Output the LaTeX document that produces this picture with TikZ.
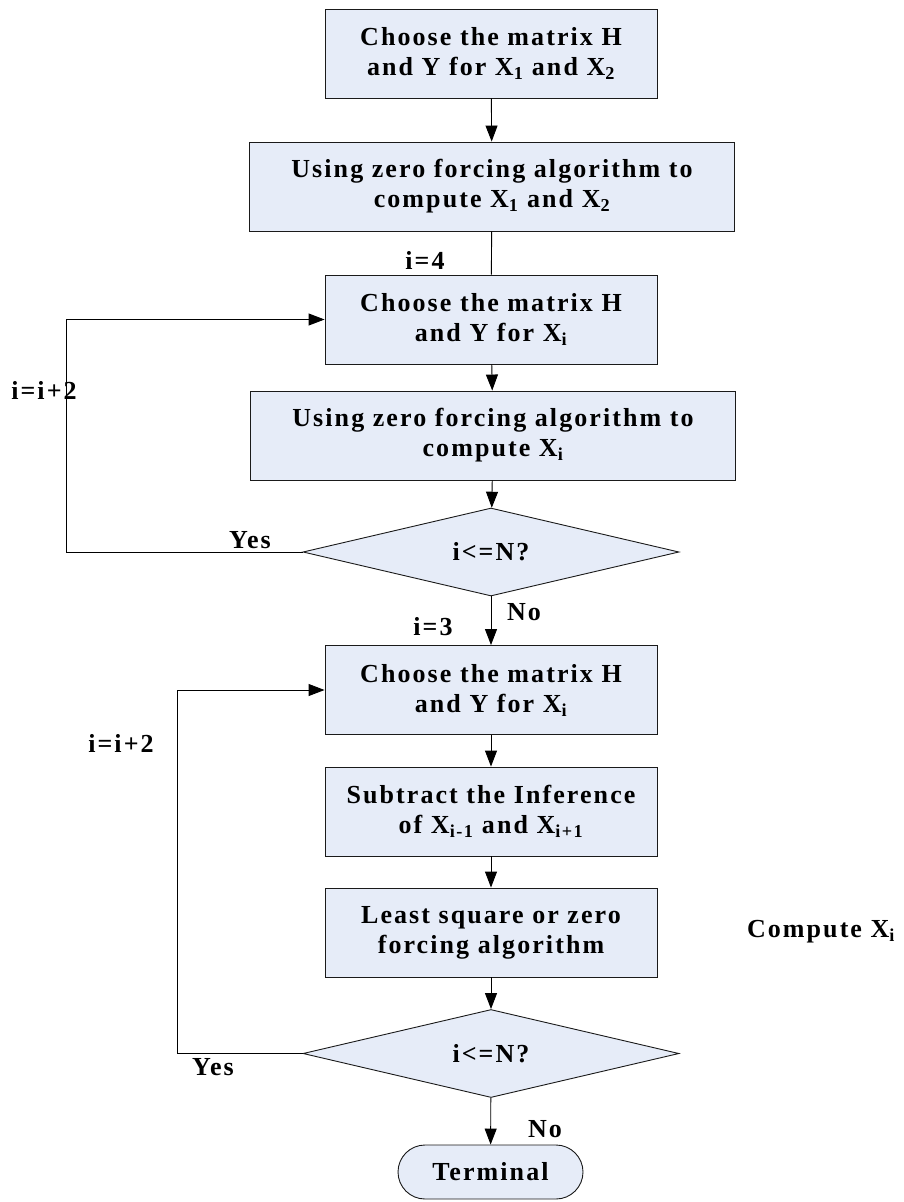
\documentclass[tikz,border=0pt]{standalone}
\usepackage{fontspec}
\setmainfont{Liberation Serif}[LetterSpace=8]
\usetikzlibrary{arrows.meta,shapes.geometric}
\definecolor{boxfill}{HTML}{E6ECF8}
\definecolor{boxline}{HTML}{1A1A1A}
\tikzset{
  txt/.style={font=\bfseries\fontsize{26}{30}\selectfont, align=center, inner sep=0pt},
  procbox/.style={txt, draw=boxline, fill=boxfill, line width=0.9pt,
    minimum width=332pt, minimum height=89pt},
  widebox/.style={procbox, minimum width=485pt},
  decision/.style={txt, diamond, draw=boxline, fill=boxfill, line width=0.9pt,
    minimum width=376pt, minimum height=88pt, shape aspect=4.27},
  termbox/.style={txt, draw=boxline, fill=boxfill, line width=0.9pt,
    minimum width=185pt, minimum height=54pt, rounded corners=27pt},
  flow/.style={line width=0.9pt, draw=black,
    -{Triangle[length=16pt,width=12pt]}},
  plain/.style={line width=0.9pt, draw=black},
  lbl/.style={txt}
}
\begin{document}
\begin{tikzpicture}[x=1pt,y=-1pt]
\useasboundingbox (0,0) rectangle (903,1202);

% first pair of symbols
\node[procbox] (b1) at (491,53.5) {Choose the matrix H\\and Y for X\textsubscript{1} and X\textsubscript{2}};
\node[widebox] (b2) at (492,186.5) {Using zero forcing algorithm to\\compute X\textsubscript{1} and X\textsubscript{2}};

% loop over even symbols
\node[procbox] (b3) at (491,319.5) {Choose the matrix H\\and Y for X\textsubscript{i}};
\node[widebox] (b4) at (493,435.5) {Using zero forcing algorithm to\\compute X\textsubscript{i}};
\node[decision] (d1) at (491,552) {i<=N?};

% loop over odd symbols
\node[procbox] (b5) at (491,690) {Choose the matrix H\\and Y for X\textsubscript{i}};
\node[procbox] (b6) at (491,811.5) {Subtract the Inference\\of X\textsubscript{i-1} and X\textsubscript{i+1}};
\node[procbox] (b7) at (491,932.5) {Least square or zero\\forcing algorithm};
\node[decision] (d2) at (491,1053.5) {i<=N?};
\node[termbox] (t) at (490.5,1172) {Terminal};

% corner points of the two feedback loops
\coordinate (l1b) at (66,552);
\coordinate (l1t) at (66,319.5);
\coordinate (l2b) at (177,1053.5);
\coordinate (l2t) at (177,690);

% main flow
\draw[flow] (b1) -- (b2);
\draw[plain] (b2) -- (b3);
\draw[flow] (b3) -- (b4);
\draw[flow] (b4) -- (d1);
\draw[flow] (d1) -- (b5);
\draw[flow] (b5) -- (b6);
\draw[flow] (b6) -- (b7);
\draw[flow] (b7) -- (d2);
\draw[flow] (d2) -- (t);

% feedback loops
\draw[flow] (d1.west) -- (l1b) -- (l1t) -- (b3.west);
\draw[flow] (d2.west) -- (l2b) -- (l2t) -- (b5.west);

% labels
\node[lbl] (li4) at (425,260) {i=4};
\node[lbl] (linc1) at (44,390) {i=i+2};
\node[lbl] (yes1) at (250,540) {Yes};
\node[lbl] (no1) at (524,612) {No};
\node[lbl] (li3) at (433,627) {i=3};
\node[lbl] (linc2) at (121,743) {i=i+2};
\node[lbl] (yes2) at (213,1067) {Yes};
\node[lbl] (no2) at (545,1129) {No};
\node[lbl] (cx) at (821,932) {Compute X\textsubscript{i}};
\end{tikzpicture}
\end{document}
